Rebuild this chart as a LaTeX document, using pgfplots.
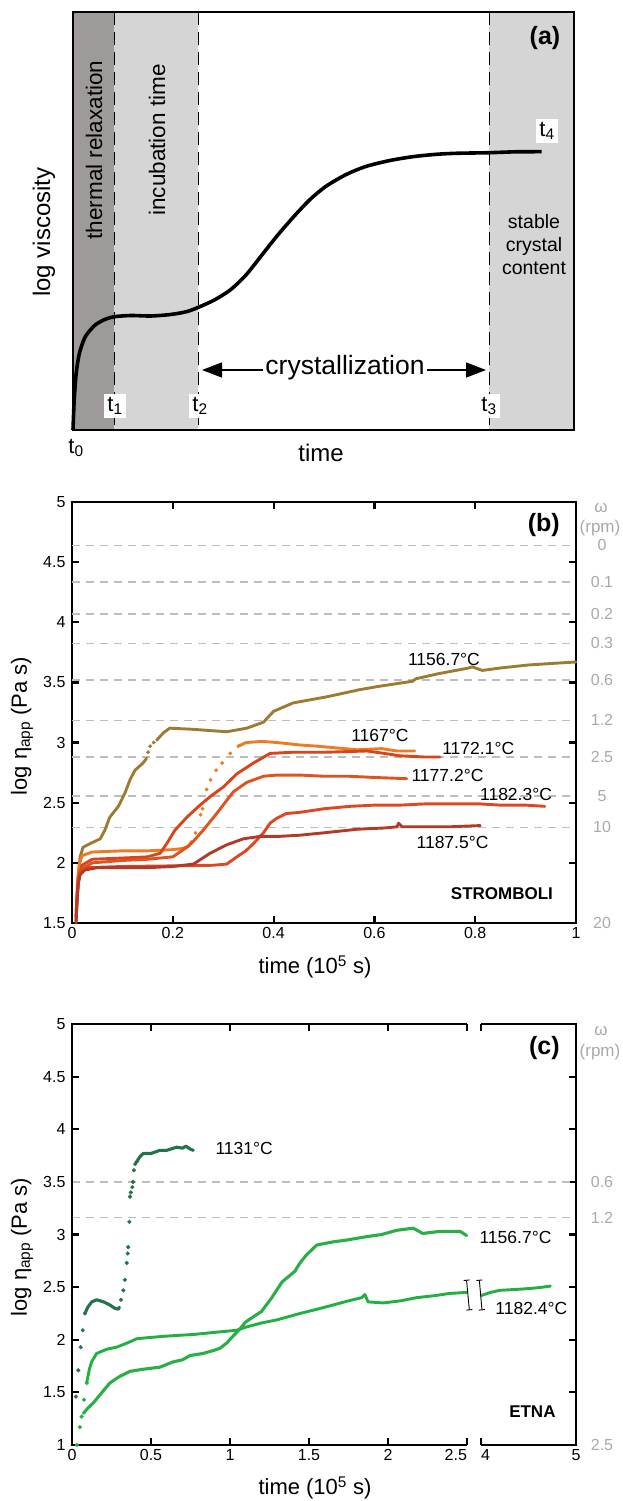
\documentclass[border=0pt]{standalone}
\usepackage{fontspec}
\setmainfont{Liberation Sans}
\usepackage{pgfplots}
\pgfplotsset{compat=1.18}
\usetikzlibrary{arrows.meta}
\definecolor{dgray}{HTML}{9E9A9A}
\definecolor{lgray}{HTML}{D5D5D5}
\definecolor{dashg}{HTML}{BDBDBD}
\definecolor{rpmg}{HTML}{A9A9A9}
\definecolor{cOl}{HTML}{9E7B33}
\definecolor{cA}{HTML}{EE7A22}
\definecolor{cB}{HTML}{D9441A}
\definecolor{cC}{HTML}{E0521E}
\definecolor{cD}{HTML}{DD4822}
\definecolor{cE}{HTML}{B33A28}
\definecolor{gDark}{HTML}{24744A}
\definecolor{gMid}{HTML}{2AAE48}
\definecolor{gLight}{HTML}{22B040}
\pgfplotsset{
  panel/.style={scale only axis, clip=false, anchor=south west, width=504pt, height=421pt,
    axis line style={line width=1.7pt},
    tick style={line width=2.2pt, black},
    major tick length=7pt,
    tick align=inside,
    tick label style={font=\fontsize{16}{16}\selectfont},
    yticklabel style={xshift=-3pt},
    xticklabel style={yshift=-1pt}},
  dline/.style={dashg, line width=1.3pt, dash pattern=on 8pt off 6pt, forget plot},
  ser/.style={line width=2.9pt, line join=round, line cap=round},
  dots/.style={only marks, mark=*, mark size=1.7pt, mark options={draw=none}},
}
\tikzset{
  rpm/.style={rpmg, xshift=26pt, font=\fontsize{16}{16}\selectfont},
  tlab/.style={font=\fontsize{17.5}{17.5}\selectfont},
}
\begin{document}
\begin{tikzpicture}[x=1pt,y=1pt]
\useasboundingbox (0,0) rectangle (623,-1501);
% ---------------- panel (a)
\begin{axis}[at={(73pt,-430pt)}, anchor=south west, scale only axis, width=501pt, height=418pt,
  xmin=0, xmax=501, ymin=0, ymax=418, xtick=\empty, ytick=\empty,
  axis line style={line width=1.8pt}, clip=false, axis on top]
\addplot[draw=none, fill=dgray] coordinates {(0,418) (41.3,418)} \closedcycle;
\addplot[draw=none, fill=lgray] coordinates {(41.3,418) (125.4,418)} \closedcycle;
\addplot[draw=none, fill=lgray] coordinates {(416.3,418) (501,418)} \closedcycle;
\addplot[black, line width=1.6pt, dash pattern=on 13pt off 7pt] coordinates {(41.3,418) (41.3,0)};
\addplot[black, line width=1.6pt, dash pattern=on 13pt off 7pt] coordinates {(125.4,418) (125.4,0)};
\addplot[black, line width=1.6pt, dash pattern=on 13pt off 7pt] coordinates {(416.3,418) (416.3,0)};
\addplot[black, line width=3.6pt, smooth, tension=0.45] coordinates {
(0,0) (1.2,30) (3.2,56.7) (6.4,76.7) (12.3,93.3) (22.2,105) (32.2,110.7) (41.3,113.3)
(58,114.5) (77.8,114) (97.6,115.5) (113.5,118.3) (125.4,122.7) (141.3,130) (157.2,140)
(173,155) (188.9,175) (204.8,195) (220.7,213.3) (236.5,230) (252.4,243.3) (272.2,255)
(292.1,263.3) (315.9,269.3) (339.7,273.3) (363.5,275.7) (383.3,276.7) (416.3,277.3)
(442.9,278.2) (468.7,278.3)};
\end{axis}
\draw[line width=1.5pt, -{Triangle[length=20pt,width=15pt]}] (345,-370) -- (486,-370);
\draw[line width=1.5pt, -{Triangle[length=20pt,width=15pt]}] (345,-370) -- (202,-370);
\node[fill=white, inner sep=2pt, font=\fontsize{26.5}{26.5}\selectfont] at (345,-368) {crystallization};
\node[font=\bfseries\fontsize{25}{25}\selectfont] at (545,-38) {(a)};
\node[rotate=90, font=\fontsize{22.5}{22.5}\selectfont] at (94,-150) {thermal relaxation};
\node[rotate=90, font=\fontsize{22.5}{22.5}\selectfont] at (157,-140) {incubation time};
\node[rotate=90, font=\fontsize{24}{24}\selectfont] at (44,-232) {log viscosity};
\node[align=center, font=\fontsize{19.5}{23}\selectfont] at (534,-245) {stable\\crystal\\content};
\node[fill=white, inner sep=3pt, font=\fontsize{22}{22}\selectfont] at (115,-406) {t\textsubscript{1}};
\node[fill=white, inner sep=3pt, font=\fontsize{22}{22}\selectfont] at (200,-406) {t\textsubscript{2}};
\node[fill=white, inner sep=3pt, font=\fontsize{22}{22}\selectfont] at (489,-406) {t\textsubscript{3}};
\node[fill=white, inner sep=3pt, font=\fontsize{22}{22}\selectfont] at (547,-131) {t\textsubscript{4}};
\node[font=\fontsize{22}{22}\selectfont] at (76,-448) {t\textsubscript{0}};
\node[font=\fontsize{24}{24}\selectfont] at (321,-453) {time};
% ---------------- panel (b)
\begin{axis}[panel, at={(72pt,-923pt)},
  xmin=0, xmax=1, ymin=1.5, ymax=5,
  xtick={0,0.2,0.4,0.6,0.8,1}, xticklabels={0,0.2,0.4,0.6,0.8,1},
  ytick={1.5,2,2.5,3,3.5,4,4.5,5}, yticklabels={1.5,2,2.5,3,3.5,4,4.5,5}]
\addplot[dline] coordinates {(0,4.64) (1,4.64)};
\addplot[dline] coordinates {(0,4.335) (1,4.335)};
\addplot[dline] coordinates {(0,4.07) (1,4.07)};
\addplot[dline] coordinates {(0,3.825) (1,3.825)};
\addplot[dline] coordinates {(0,3.52) (1,3.52)};
\addplot[dline] coordinates {(0,3.185) (1,3.185)};
\addplot[dline] coordinates {(0,2.88) (1,2.88)};
\addplot[dline] coordinates {(0,2.555) (1,2.555)};
\addplot[dline] coordinates {(0,2.295) (1,2.295)};
% 1156.7 C
\addplot[ser, cOl] coordinates {(0.012,1.85) (0.016,2.05) (0.022,2.13) (0.036,2.16) (0.056,2.20)
(0.065,2.27) (0.075,2.38) (0.092,2.47) (0.105,2.58) (0.115,2.69) (0.125,2.77) (0.141,2.83)
(0.148,2.87)};
\addplot[dots, cOl] coordinates {(0.151,2.92) (0.155,2.97) (0.162,3.0)};
\addplot[ser, cOl] coordinates {(0.168,3.02) (0.181,3.08) (0.194,3.12) (0.241,3.11) (0.307,3.09)
(0.347,3.12) (0.380,3.17) (0.40,3.26) (0.439,3.33) (0.505,3.38) (0.571,3.44) (0.605,3.465)
(0.676,3.51) (0.682,3.53) (0.724,3.57) (0.787,3.62) (0.794,3.63) (0.814,3.60) (0.85,3.62)
(0.905,3.645) (0.96,3.66) (1.0,3.67)};
% 1167 C
\addplot[ser, cA] coordinates {(0.008,1.6) (0.011,1.85) (0.014,1.98) (0.02,2.06) (0.04,2.09)
(0.1,2.10) (0.15,2.10) (0.2,2.11) (0.22,2.12) (0.232,2.14) (0.238,2.18)};
\addplot[dots, cA] coordinates {(0.245,2.25) (0.255,2.40) (0.259,2.45) (0.267,2.61) (0.275,2.69)
(0.286,2.77) (0.298,2.83) (0.314,2.91) (0.33,2.97)};
\addplot[ser, cA] coordinates {(0.33,2.97) (0.345,3.0) (0.377,3.01) (0.408,3.0) (0.452,2.98)
(0.487,2.97) (0.566,2.94) (0.614,2.95) (0.645,2.93) (0.68,2.93)};
% 1172.1 C
\addplot[ser, cB] coordinates {(0.008,1.55) (0.011,1.78) (0.014,1.9) (0.02,1.98) (0.04,2.03)
(0.1,2.04) (0.15,2.05) (0.175,2.08) (0.188,2.16) (0.204,2.27) (0.228,2.38) (0.254,2.48)
(0.274,2.55) (0.30,2.63) (0.327,2.74) (0.36,2.83) (0.393,2.91) (0.439,2.92) (0.505,2.92)
(0.585,2.93) (0.62,2.91) (0.651,2.89) (0.7,2.88) (0.73,2.88)};
% 1177.2 C
\addplot[ser, cC] coordinates {(0.008,1.55) (0.011,1.75) (0.014,1.88) (0.02,1.95) (0.04,2.0)
(0.1,2.02) (0.15,2.03) (0.2,2.05) (0.228,2.13) (0.241,2.18) (0.26,2.27) (0.287,2.41)
(0.32,2.59) (0.347,2.67) (0.38,2.72) (0.406,2.73) (0.452,2.73) (0.5,2.72) (0.55,2.72)
(0.6,2.71) (0.664,2.70)};
% 1182.3 C
\addplot[ser, cD] coordinates {(0.008,1.52) (0.010,1.7) (0.013,1.85) (0.017,1.92) (0.03,1.96)
(0.1,1.97) (0.2,1.975) (0.28,1.98) (0.307,1.99) (0.327,2.05) (0.345,2.1) (0.36,2.16)
(0.38,2.25) (0.393,2.33) (0.406,2.37) (0.425,2.41) (0.452,2.42) (0.5,2.45) (0.552,2.47)
(0.6,2.48) (0.651,2.48) (0.7,2.49) (0.75,2.49) (0.81,2.49) (0.85,2.48) (0.9,2.48) (0.938,2.47)};
% 1187.5 C
\addplot[ser, cE] coordinates {(0.008,1.5) (0.010,1.68) (0.012,1.82) (0.016,1.9) (0.025,1.94)
(0.05,1.96) (0.1,1.96) (0.15,1.96) (0.2,1.97) (0.241,1.99) (0.274,2.08) (0.307,2.15)
(0.34,2.20) (0.373,2.22) (0.41,2.22) (0.452,2.23) (0.5,2.25) (0.567,2.28) (0.62,2.29)
(0.645,2.30) (0.648,2.33) (0.655,2.30) (0.7,2.30) (0.75,2.30) (0.81,2.31)};
\node[tlab] at (axis cs:0.738,3.69) {1156.7°C};
\node[tlab] at (axis cs:0.611,3.06) {1167°C};
\node[tlab] at (axis cs:0.806,2.955) {1172.1°C};
\node[tlab] at (axis cs:0.745,2.73) {1177.2°C};
\node[tlab] at (axis cs:0.881,2.565) {1182.3°C};
\node[tlab] at (axis cs:0.755,2.17) {1187.5°C};
\node[font=\bfseries\fontsize{17}{17}\selectfont] at (axis cs:0.853,1.74) {STROMBOLI};
\node[font=\bfseries\fontsize{25}{25}\selectfont] at (axis cs:0.936,4.81) {(b)};
\node[rpm] at (axis cs:1,4.64) {0};
\node[rpm] at (axis cs:1,4.335) {0.1};
\node[rpm] at (axis cs:1,4.07) {0.2};
\node[rpm] at (axis cs:1,3.825) {0.3};
\node[rpm] at (axis cs:1,3.52) {0.6};
\node[rpm] at (axis cs:1,3.185) {1.2};
\node[rpm] at (axis cs:1,2.88) {2.5};
\node[rpm] at (axis cs:1,2.555) {5};
\node[rpm] at (axis cs:1,2.295) {10};
\node[rpm] at (axis cs:1,1.5) {20};
\end{axis}
\node[rpmg, font=\fontsize{17}{17}\selectfont] at (601,-508) {ω};
\node[rpmg, font=\fontsize{17}{17}\selectfont] at (600,-528) {(rpm)};
\node[font=\fontsize{22}{22}\selectfont] at (315,-967) {time (10\textsuperscript{5} s)};
\node[rotate=90, font=\fontsize{22}{22}\selectfont] at (22,-726) {log η\textsubscript{app} (Pa s)};
% ---------------- panel (c)
\begin{axis}[panel, at={(72pt,-1445pt)},
  separate axis lines, axis line style={draw=none},
  xmin=0, xmax=3.19, ymin=1, ymax=5,
  xtick={0,0.5,1,1.5,2,2.5,2.589,3.19},
  xticklabels={0,0.5,1,1.5,2,{\hbox to 0pt{\hss 2.5}},{\hbox to 0pt{4\hss}},5},
  ytick={1,1.5,2,2.5,3,3.5,4,4.5,5}, yticklabels={1,1.5,2,2.5,3,3.5,4,4.5,5}]
\addplot[dline] coordinates {(0,3.50) (3.19,3.50)};
\addplot[dline] coordinates {(0,3.16) (3.19,3.16)};
% 1131 C
\addplot[dots, gDark, mark size=1.9pt] coordinates {(0.025,1.46) (0.04,1.71) (0.055,1.93) (0.068,2.09) (0.082,2.25)};
\addplot[ser, gDark, line width=3.1pt] coordinates {(0.082,2.25) (0.1,2.31) (0.125,2.36) (0.156,2.38)
(0.2,2.36) (0.24,2.33) (0.27,2.30) (0.293,2.29) (0.30,2.31)};
\addplot[dots, gDark, mark size=1.9pt] coordinates {(0.31,2.38) (0.325,2.47) (0.335,2.57) (0.346,2.73)
(0.353,2.82) (0.356,2.88) (0.363,3.12) (0.367,3.36) (0.372,3.40) (0.382,3.45) (0.386,3.50)
(0.392,3.61) (0.40,3.67) (0.409,3.69)};
\addplot[ser, gDark, line width=3.1pt] coordinates {(0.409,3.69) (0.43,3.74) (0.451,3.77) (0.5,3.77)
(0.557,3.80) (0.6,3.80) (0.663,3.83) (0.7,3.82) (0.72,3.84) (0.75,3.81) (0.768,3.80)};
% 1182.4 C
\addplot[dots, gLight, mark size=1.9pt] coordinates {(0.03,1.0) (0.05,1.17) (0.061,1.27) (0.076,1.43) (0.093,1.59)};
\addplot[ser, gLight] coordinates {(0.093,1.59) (0.11,1.72) (0.124,1.79) (0.156,1.87) (0.22,1.91)
(0.283,1.93) (0.35,1.97) (0.41,2.01) (0.48,2.02) (0.557,2.03) (0.65,2.04) (0.767,2.05)
(0.9,2.07) (1.04,2.09) (1.1,2.12) (1.2,2.16) (1.3,2.19) (1.443,2.25) (1.55,2.29) (1.652,2.33)
(1.75,2.37) (1.834,2.40) (1.854,2.43) (1.874,2.36) (1.97,2.35) (2.08,2.37) (2.18,2.40)
(2.3,2.42) (2.39,2.44) (2.498,2.45)};
\addplot[ser, gLight, x filter/.expression={2.589+(x-4)*0.601}] coordinates {(4.0,2.42) (4.1,2.45)
(4.2,2.47) (4.4,2.48) (4.55,2.49) (4.65,2.50) (4.73,2.51)};
% 1156.7 C
\addplot[ser, gMid, line width=3.1pt] coordinates {(0.072,1.30) (0.1,1.35) (0.135,1.40) (0.19,1.50)
(0.24,1.59) (0.3,1.65) (0.367,1.70) (0.45,1.72) (0.557,1.74) (0.64,1.79) (0.7,1.81)
(0.747,1.85) (0.83,1.87) (0.9,1.90) (0.937,1.92) (0.98,1.97) (1.01,2.02) (1.055,2.09)
(1.1,2.17) (1.2,2.27) (1.26,2.39) (1.33,2.55) (1.41,2.65) (1.443,2.73) (1.48,2.80)
(1.549,2.90) (1.652,2.93) (1.75,2.95) (1.865,2.98) (1.96,3.0) (2.055,3.04) (2.16,3.06)
(2.22,3.01) (2.33,3.03) (2.456,3.03) (2.498,2.99)};
% broken axis frame
\draw[line width=1.7pt] (axis cs:2.5,5) -- (axis cs:0,5) -- (axis cs:0,1) -- (axis cs:2.5,1);
\draw[line width=1.7pt] (axis cs:2.589,5) -- (axis cs:3.19,5) -- (axis cs:3.19,1) -- (axis cs:2.589,1);
\draw[line width=0.9pt, {Bar[width=6pt]}-{Bar[width=6pt]}] (axis cs:2.497,2.57) -- (axis cs:2.515,2.28);
\draw[line width=0.9pt, {Bar[width=6pt]}-{Bar[width=6pt]}] (axis cs:2.578,2.57) -- (axis cs:2.595,2.28);
\node[tlab, anchor=west] at (axis cs:0.886,3.82) {1131°C};
\node[tlab, anchor=west] at (axis cs:2.557,2.97) {1156.7°C};
\node[tlab, anchor=west] at (axis cs:2.658,2.30) {1182.4°C};
\node[font=\bfseries\fontsize{17}{17}\selectfont] at (axis cs:2.914,1.32) {ETNA};
\node[font=\bfseries\fontsize{25}{25}\selectfont] at (axis cs:2.99,4.77) {(c)};
\node[rpm] at (axis cs:3.19,3.50) {0.6};
\node[rpm] at (axis cs:3.19,3.16) {1.2};
\node[rpm] at (axis cs:3.19,1) {2.5};
\end{axis}
\node[rpmg, font=\fontsize{17}{17}\selectfont] at (601,-1031) {ω};
\node[rpmg, font=\fontsize{17}{17}\selectfont] at (600,-1052) {(rpm)};
\node[font=\fontsize{22}{22}\selectfont] at (315,-1488) {time (10\textsuperscript{5} s)};
\node[rotate=90, font=\fontsize{22}{22}\selectfont] at (22,-1247) {log η\textsubscript{app} (Pa s)};
\end{tikzpicture}
\end{document}
